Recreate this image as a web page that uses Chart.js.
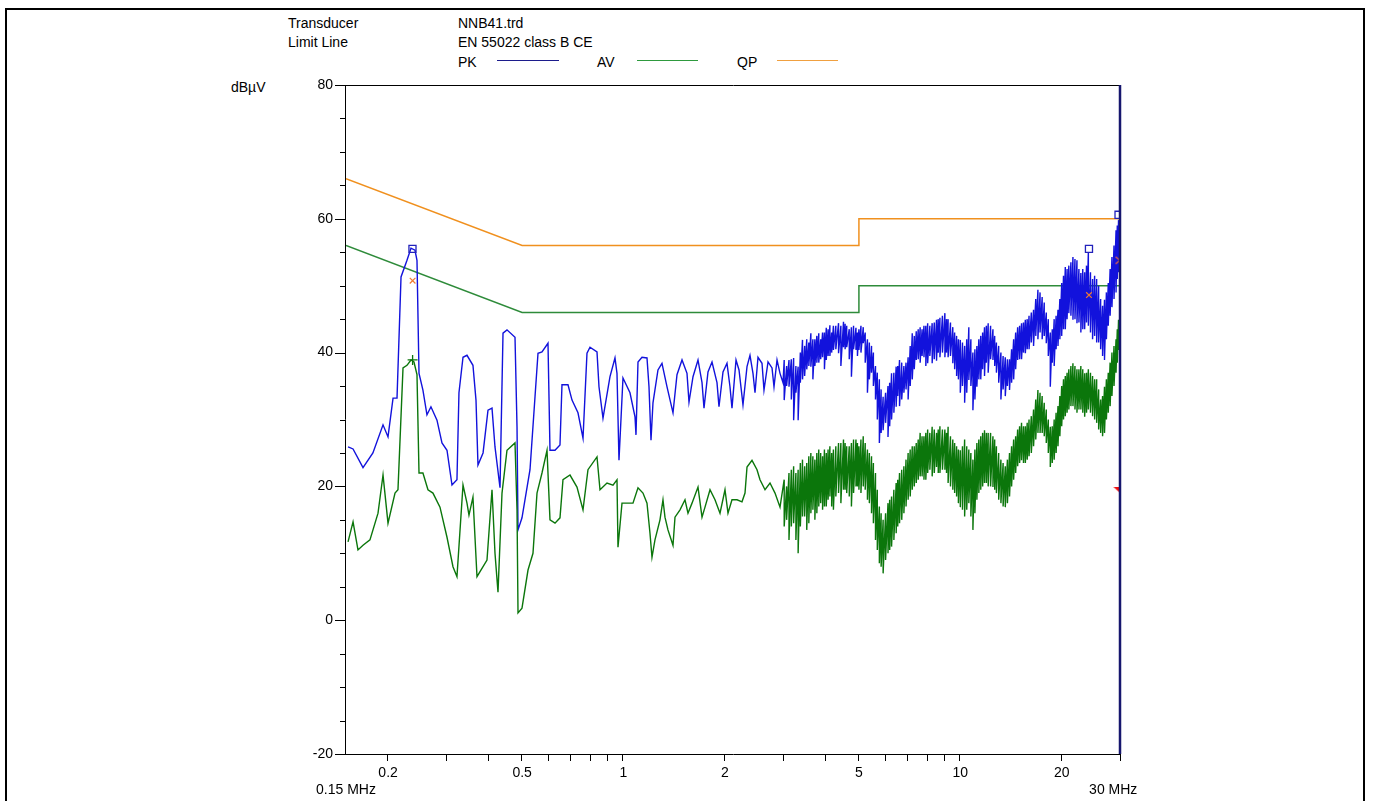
<!DOCTYPE html>
<html>
<head>
<meta charset="utf-8">
<script src="https://cdn.jsdelivr.net/npm/chart.js@4.4.1/dist/chart.umd.min.js"></script>
<style>
html,body{margin:0;padding:0;background:#fff;}
#wrap{position:relative;width:1375px;height:801px;overflow:hidden;background:#fff;}
#frame{position:absolute;left:5px;top:8px;width:1360px;height:800px;border:2px solid #000;border-bottom:none;box-sizing:border-box;}
#c{position:absolute;left:0;top:0;}
.t{position:absolute;font-family:"Liberation Sans",Arial,sans-serif;font-size:14px;line-height:16px;color:#000;white-space:nowrap;}
.lg{position:absolute;height:0;border-top:1.5px solid;}
</style>
</head>
<body>
<div id="wrap">
  <div id="frame"></div>
  <div class="t" style="left:288px;top:15px;">Transducer</div>
  <div class="t" style="left:288px;top:34px;">Limit Line</div>
  <div class="t" style="left:458px;top:15px;">NNB41.trd</div>
  <div class="t" style="left:458px;top:34px;">EN 55022 class B CE</div>
  <div class="t" style="left:458px;top:54px;">PK</div>
  <div class="lg" style="left:497px;top:60px;width:62px;border-color:#1c1c8c;"></div>
  <div class="t" style="left:597px;top:54px;">AV</div>
  <div class="lg" style="left:637px;top:60px;width:61px;border-color:#2e9a3e;"></div>
  <div class="t" style="left:737px;top:54px;">QP</div>
  <div class="lg" style="left:777px;top:60px;width:61px;border-color:#f0a040;"></div>
  <div class="t" style="left:231px;top:79px;">dBµV</div>
  <canvas id="c" width="1375" height="801"></canvas>
</div>
<script>
// ---------- axis ticks ----------
const xTickValues = [0.15, 0.2, 0.3, 0.4, 0.5, 0.6, 0.7, 0.8, 0.9, 1, 2, 3, 4, 5, 6, 7, 8, 9, 10, 20, 30];
const xTickText   = [['', '0.15 MHz'], '0.2', '', '', '0.5', '', '', '', '', '1', '2', '', '', '5', '', '', '', '', '10', '20', ['', '30 MHz\u00a0\u00a0\u00a0\u00a0']];
const yLabelValues = [80, 60, 40, 20, 0, -20];

// ---------- limit lines (EN 55022 class B) ----------
const limitFreq = [0.15, 0.5, 5, 5, 30];
const qpLimit   = [66, 56, 56, 60, 60];
const avLimit   = [56, 46, 46, 50, 50];

// ---------- PK trace, low-frequency part (MHz, dBµV) ----------
const pkFreqA = [0.1521,0.1574,0.1685,0.1803,0.1932,0.1999,0.2069,0.2126,0.2185,0.2276,0.2339,0.2404,0.2437,0.2471,0.2538,0.2609,0.2681,0.2794,0.2891,0.2992,0.3096,0.3203,0.3247,0.3338,0.3430,0.3573,0.3648,0.3698,0.3828,0.3960,0.4070,0.4154,0.4299,0.4388,0.4509,0.4763,0.4829,0.4862,0.4996,0.5277,0.5461,0.5574,0.5728,0.5968,0.6050,0.6261,0.6478,0.6567,0.6842,0.7033,0.7326,0.7582,0.7791,0.7953,0.8343,0.8457,0.8692,0.9118,0.9435,0.9565,0.9696,0.9965,1.0454,1.0818,1.0892,1.1042,1.1347,1.1743,1.1904,1.2068,1.2233,1.2658,1.3010,1.3461,1.4027,1.4416,1.4919,1.5436,1.5648,1.6084,1.6642,1.7105,1.7339,1.7818,1.8315,1.8950,1.9210,1.9744,2.0291,2.0709,2.0995,2.1582,2.2028,2.2635,2.3266,2.3745,2.4236,2.4573,2.5082,2.5778,2.6131,2.6860,2.7603,2.7981,2.8565,2.9154,2.9758];
const pkValA  = [25.9,25.6,22.8,25.0,29.2,27.4,33.2,33.2,51.3,53.8,55.6,55.3,53.8,36.9,34.4,30.7,31.9,29.9,26.5,25.4,20.2,21.0,34.0,39.3,39.6,38.1,32.9,23.2,25.0,31.4,31.7,25.9,19.8,42.9,43.4,42.3,28.9,13.5,15.3,22.5,33.4,39.9,40.1,41.4,25.4,25.4,26.2,35.2,35.2,32.9,31.0,27.2,39.9,40.8,40.1,34.9,30.2,36.4,39.2,36.9,23.9,36.2,34.0,30.4,27.7,38.6,39.3,39.2,34.9,26.9,32.5,37.4,38.4,34.9,31.0,36.7,38.9,36.9,32.6,36.4,38.9,35.5,31.7,37.1,38.6,35.5,31.9,37.1,38.4,34.9,31.7,38.9,37.4,32.2,37.9,39.6,36.9,34.0,39.3,38.4,34.4,38.6,37.7,34.9,38.9,36.9,35.5];

// ---------- AV trace, low-frequency part ----------
const avFreqA = [0.1521,0.1574,0.1628,0.1685,0.1767,0.1867,0.1932,0.1999,0.2097,0.2140,0.2215,0.2276,0.2339,0.2387,0.2437,0.2471,0.2538,0.2627,0.2718,0.2852,0.2992,0.3117,0.3203,0.3338,0.3430,0.3477,0.3573,0.3673,0.3933,0.4070,0.4154,0.4240,0.4358,0.4509,0.4763,0.4829,0.4862,0.4996,0.5206,0.5386,0.5536,0.5728,0.5928,0.6050,0.6261,0.6478,0.6612,0.6937,0.7276,0.7582,0.7844,0.8343,0.8516,0.8933,0.9307,0.9565,0.9630,0.9898,1.0242,1.0670,1.1042,1.1425,1.1743,1.1985,1.2150,1.2401,1.2833,1.3099,1.3278,1.3553,1.4027,1.4220,1.4716,1.5226,1.5541,1.5975,1.6642,1.7105,1.7457,1.8066,1.8692,1.9344,2.0015,2.0429,2.0995,2.1730,2.2481,2.2949,2.3266,2.4072,2.4912,2.5427,2.6315,2.7227,2.8176,2.9154];
const avValA  = [11.7,14.7,10.5,11.2,12.0,16.0,21.7,14.5,19.0,19.5,37.7,38.1,38.9,38.6,36.7,22.0,22.0,19.5,19.0,16.9,12.4,8.0,6.5,20.2,17.5,15.7,18.4,6.5,9.0,19.5,10.0,4.2,19.0,25.4,26.5,16.5,1.1,1.8,7.5,10.0,19.0,22.0,25.4,15.0,14.5,15.3,21.0,21.7,19.9,16.5,22.5,24.4,19.5,20.5,20.2,21.0,10.9,17.5,17.5,17.5,19.8,19.0,17.5,13.0,9.4,12.0,15.0,18.0,15.4,13.5,11.2,15.4,16.5,18.0,16.0,17.5,19.9,15.4,16.9,19.5,18.0,16.0,19.5,16.0,18.0,18.0,17.7,19.0,22.9,23.9,22.5,21.0,19.5,20.5,19.0,16.9];

// ---------- swept part 3–30 MHz: band edges read at two interleaved frequency sets ----------
const denseFreq = [3.0,3.1,3.2,3.3,3.4,3.5,3.6,3.7,3.8,3.9,4.0,4.1,4.2,4.35,4.5,4.6,4.75,4.9,5.0,5.15,5.3,5.45,5.6,5.75,5.9,6.1,6.25,6.45,6.6,6.8,7.0,7.2,7.4,7.6,7.8,8.0,8.25,8.5,8.7,9.0,9.2,9.5,9.75,10,10.3,10.6,10.9,11.2,11.5,11.8,12.1,12.5,12.8,13.2,13.6,14,14.4,14.8,15.2,15.6,16,16.5,17,17.5,18,18.5,19,19.5,20,20.5,21,21.6,22.2,22.8,23.4,24.0,24.7,25.4,26.1,26.8,27.5,28.2,29.0,29.5,30];
const pkHi = [38.9,38.9,39.2,37.9,41.9,42.0,42.9,42.0,42.9,43.0,43.7,44.1,44.0,44.4,44.6,44.0,43.8,43.7,43.5,43.8,42.0,41.0,38.0,36.0,33.4,35.0,36.9,37.9,38.9,38.0,39.3,42.9,43.2,43.8,44.0,44.4,44.4,44.9,45.2,45.9,45.0,43.8,42.5,41.9,41.0,43.8,40.0,41.0,42.5,43.8,44.4,43.5,41.5,40.0,39.3,39.0,42.0,43.8,44.4,44.9,45.5,46.4,49.4,48.3,46.0,43.0,45.0,46.4,50.4,52.8,53.0,54.3,53.8,51.9,52.0,55.0,51.0,51.0,48.0,47.9,50.4,54.3,58.3,59.8,58.0];
const pkLo = [32.9,34.9,29.9,29.9,36.0,37.5,37.9,38.0,38.5,39.3,38.9,39.5,40.4,39.9,40.8,40.8,36.4,40.4,40.4,41.4,34.0,37.0,33.0,26.5,28.4,27.4,30.0,31.9,32.0,34.0,33.0,36.0,38.9,38.5,39.3,38.4,38.4,38.8,39.3,39.3,39.3,38.4,36.5,34.0,32.5,35.9,31.4,34.9,36.0,36.5,37.0,38.9,37.0,33.0,33.5,34.4,36.0,38.9,39.0,39.9,40.5,41.0,42.0,42.0,41.4,34.9,38.0,41.0,42.5,43.5,45.9,44.9,44.4,43.0,43.5,44.0,42.0,41.5,40.5,38.9,44.0,46.8,49.0,52.0,52.0];
const avHi = [21.0,22.0,23.0,22.5,24.0,23.5,25.0,24.0,25.5,24.5,25.0,26.0,25.5,26.5,27.0,26.0,26.5,27.0,26.0,27.5,25.5,24.5,22.0,17.0,15.0,17.5,18.5,20.5,22.0,23.0,25.0,26.0,26.5,28.0,27.5,28.5,28.9,28.0,29.0,28.5,28.9,27.0,26.0,25.4,27.0,25.5,24.0,26.5,27.5,28.4,28.0,27.5,26.0,24.0,23.0,25.0,27.0,28.5,29.5,29.0,30.0,31.5,34.4,33.5,31.5,28.9,30.0,32.0,35.0,36.5,37.5,38.4,37.5,38.0,36.9,37.5,36.5,36.0,33.0,34.9,37.0,40.0,42.0,44.9,45.5];
const avLo = [14.0,12.0,14.5,10.0,15.5,13.5,16.0,15.0,17.0,16.5,17.0,18.5,16.5,19.0,19.5,19.0,17.0,20.0,19.5,20.0,18.0,16.0,12.0,8.5,7.0,10.0,11.0,13.0,14.5,16.0,18.0,19.5,20.5,21.5,21.0,22.0,21.5,22.9,22.0,22.5,20.5,19.5,18.5,16.9,15.5,17.5,13.5,18.0,19.5,20.5,20.0,19.9,19.0,17.5,16.9,18.5,21.0,23.0,23.9,23.5,24.5,26.0,28.0,28.0,26.5,22.9,24.0,26.0,29.0,30.5,31.5,32.0,31.0,31.5,30.4,31.5,30.5,29.5,28.0,28.0,31.0,33.5,37.0,40.4,42.0];

const midFreq = [3.05,3.15,3.25,3.35,3.45,3.55,3.65,3.75,3.85,3.95,4.05,4.15,4.27,4.42,4.55,4.68,4.82,4.95,5.07,5.22,5.37,5.52,5.67,5.82,6.0,6.17,6.35,6.52,6.7,6.9,7.1,7.3,7.5,7.7,7.9,8.12,8.37,8.6,8.85,9.1,9.35,9.62,9.87,10.15,10.45,10.75,11.05,11.35,11.65,11.95,12.3,12.65,13.0,13.4,13.8,14.2,14.6,15.0,15.4,15.8,16.25,16.75,17.25,17.75,18.25,18.75,19.25,19.75,20.25,20.75,21.3,21.9,22.5,23.1,23.7,24.35,25.05,25.75,26.45,27.15,27.85,28.6,29.25,29.75];
const pkMidHi = [38.0,39.0,38.0,40.0,41.0,41.5,42.0,42.5,42.0,43.0,43.5,43.0,44.0,44.0,44.3,43.5,44.0,43.0,44.0,43.0,41.5,40.0,37.0,34.5,34.0,35.5,37.0,38.0,38.5,38.5,41.0,42.5,43.5,43.5,44.0,44.0,44.5,45.0,45.5,45.0,44.5,43.0,42.0,41.5,42.0,42.0,40.5,42.0,43.0,44.0,44.0,42.5,41.0,39.5,39.0,40.5,43.0,44.0,44.5,45.0,46.0,48.0,49.0,47.5,45.0,43.5,45.5,48.0,51.5,52.5,53.5,54.0,52.5,52.5,53.0,52.0,51.5,50.0,47.0,49.0,52.5,56.0,59.0,59.0];
const pkMidLo = [35.0,33.0,34.0,35.5,36.5,38.0,36.0,38.5,39.0,37.5,39.5,40.0,40.5,38.0,40.5,39.0,40.5,39.5,40.0,38.5,36.0,35.0,30.0,28.0,29.5,29.0,31.0,33.5,33.0,34.5,35.0,37.5,39.0,39.5,38.0,39.5,39.0,40.0,40.0,40.0,39.5,37.5,36.0,35.0,34.0,35.0,33.0,36.0,37.5,38.5,39.0,38.0,35.5,34.5,35.0,35.5,37.5,39.0,40.0,40.5,41.5,42.5,43.0,42.5,39.5,38.5,40.5,42.0,43.5,45.0,45.5,45.0,44.5,43.5,44.5,43.0,42.5,41.5,39.5,42.0,45.5,48.0,51.0,53.0];
const avMidHi = [20.0,22.5,22.0,23.5,23.0,24.5,24.5,25.0,25.0,25.5,25.5,25.0,26.0,26.5,26.5,26.0,27.0,26.5,27.0,26.5,25.0,23.5,19.5,16.0,16.0,18.0,19.5,21.0,22.5,24.0,25.5,26.0,27.0,27.5,28.0,28.0,28.5,28.5,28.5,28.0,27.5,26.5,25.5,26.0,26.0,25.0,25.5,27.0,28.0,28.0,28.0,27.0,25.0,23.5,24.0,26.0,27.5,29.0,29.0,29.5,30.5,33.0,34.0,32.5,30.0,29.0,31.0,33.5,36.0,37.0,38.0,38.0,37.5,37.5,37.0,37.0,36.0,34.5,33.5,36.0,38.5,41.0,43.5,45.0];
const avMidLo = [15.0,14.0,12.0,14.0,15.5,14.5,16.5,16.0,17.5,17.0,18.0,17.0,18.5,17.5,19.5,18.5,19.0,20.0,19.0,19.5,17.5,14.5,10.5,8.0,9.0,10.5,12.0,14.0,15.0,17.0,18.5,20.0,21.0,21.5,21.0,22.5,22.0,22.0,22.5,22.0,20.0,19.0,17.5,16.5,16.5,15.5,16.0,19.0,20.0,20.5,20.0,19.5,18.0,17.0,17.5,20.0,22.0,23.5,23.5,24.0,25.0,27.0,28.0,27.5,25.0,23.5,25.0,27.5,30.0,31.0,32.0,31.5,31.5,31.0,31.0,31.0,30.0,28.5,27.5,30.0,32.0,35.0,38.5,41.0];

// ---------- markers ----------
const pkMarkFreq = [0.2363, 24.1, 29.5];
const pkMarkVal  = [55.5, 55.5, 60.6];
const qpMarkFreq = [0.2365, 24.1];
const qpMarkVal  = [50.75, 48.6];
const avMarkFreq = [0.2365];
const avMarkVal  = [38.9];
const gtMarkFreq = [29.4];
const gtMarkVal  = [53.8];
const triMarkFreq = [29.4];
const triMarkVal  = [19.3];

// ---------- build point tables ----------
function pts(fx, vy) { return fx.map((f, i) => ({x: f, y: vy[i]})); }
function band(fx, hi, lo, mx, mhi, mlo) {
  const out = [];
  for (let i = 0; i < fx.length; i++) {
    out.push({x: fx[i], y: hi[i]}); out.push({x: fx[i], y: lo[i]});
    if (i < mx.length) { out.push({x: mx[i], y: mhi[i]}); out.push({x: mx[i], y: mlo[i]}); }
  }
  return out;
}

// custom point glyphs (style only)
function glyph(w, h, draw) {
  const c = document.createElement('canvas'); c.width = w; c.height = h;
  draw(c.getContext('2d')); return c;
}
const triGlyph = glyph(10, 9, g => { g.fillStyle = '#ee1111'; g.beginPath(); g.moveTo(0, 0); g.lineTo(10, 0); g.lineTo(10, 9); g.closePath(); g.fill(); });
const gtGlyph = glyph(7, 9, g => { g.strokeStyle = '#f06a3a'; g.lineWidth = 1.2; g.beginPath(); g.moveTo(1, 1); g.lineTo(5.5, 4.5); g.lineTo(1, 8); g.stroke(); });

const FONT = '"Liberation Sans", Arial, sans-serif';

const axisFrame = {
  id: 'axisFrame',
  afterDatasetsDraw(chart) {
    const {ctx, chartArea: a, scales: {x, y}} = chart;
    ctx.save();
    ctx.strokeStyle = '#000'; ctx.lineWidth = 1;
    ctx.beginPath();
    ctx.moveTo(a.left, a.top + 0.5); ctx.lineTo(a.right, a.top + 0.5);
    ctx.moveTo(a.left - 0.5, a.top); ctx.lineTo(a.left - 0.5, a.bottom);
    ctx.moveTo(a.left, a.bottom + 0.5); ctx.lineTo(a.right, a.bottom + 0.5);
    y.ticks.forEach(t => {
      const py = Math.round(y.getPixelForValue(t.value)) + 0.5;
      const len = yLabelValues.includes(t.value) ? 11 : 6;
      ctx.moveTo(a.left - len, py); ctx.lineTo(a.left, py);
    });
    xTickValues.forEach(v => {
      if (v === xTickValues[0]) return;
      const px = Math.round(x.getPixelForValue(v)) - 0.5;
      ctx.moveTo(px, a.bottom); ctx.lineTo(px, a.bottom + 7);
    });
    ctx.stroke();
    ctx.strokeStyle = '#16166e'; ctx.lineWidth = 2.5;
    ctx.beginPath(); ctx.moveTo(a.right - 1, a.top); ctx.lineTo(a.right - 1, a.bottom); ctx.stroke();
    ctx.restore();
  }
};

new Chart(document.getElementById('c'), {
  type: 'line',
  data: {
    datasets: [
      {label: 'QP limit', data: pts(limitFreq, qpLimit), borderColor: '#f0901e', borderWidth: 1.5, order: 5},
      {label: 'AV limit', data: pts(limitFreq, avLimit), borderColor: '#2e8b3a', borderWidth: 1.5, order: 5},
      {label: 'PK', data: pts(pkFreqA, pkValA).concat(band(denseFreq, pkHi, pkLo, midFreq, pkMidHi, pkMidLo)), borderColor: '#1212dc', borderWidth: 1.4, order: 3},
      {label: 'AV', data: pts(avFreqA, avValA).concat(band(denseFreq, avHi, avLo, midFreq, avMidHi, avMidLo)), borderColor: '#0b760b', borderWidth: 1.4, order: 2},
      {label: 'PK mk', data: pts(pkMarkFreq, pkMarkVal), showLine: false, pointStyle: 'rect', pointRadius: 5, pointBorderColor: '#2222bb', pointBackgroundColor: 'rgba(0,0,0,0)', pointBorderWidth: 1.3, order: 0},
      {label: 'QP mk', data: pts(qpMarkFreq, qpMarkVal), showLine: false, pointStyle: 'crossRot', pointRadius: 4, pointBorderColor: '#f07a30', pointBorderWidth: 1.2, order: 0},
      {label: 'AV mk', data: pts(avMarkFreq, avMarkVal), showLine: false, pointStyle: 'cross', pointRadius: 5, pointBorderColor: '#0b760b', pointBorderWidth: 1.3, order: 0},
      {label: 'GT mk', data: pts(gtMarkFreq, gtMarkVal), showLine: false, pointStyle: gtGlyph, pointRadius: 4, order: 0},
      {label: 'TRI mk', data: pts(triMarkFreq, triMarkVal), showLine: false, pointStyle: triGlyph, pointRadius: 5, order: 0}
    ]
  },
  options: {
    responsive: false,
    animation: false,
    devicePixelRatio: 1,
    parsing: false,
    normalized: true,
    layout: {padding: {left: 0, top: 85, right: 254, bottom: 0}},
    elements: {point: {radius: 0, hoverRadius: 0}, line: {tension: 0, fill: false}},
    plugins: {legend: {display: false}, tooltip: {enabled: false}},
    scales: {
      x: {
        type: 'logarithmic', min: 0.15, max: 30,
        afterBuildTicks(s) { s.ticks = xTickValues.map(v => ({value: v})); },
        afterFit(s) { s.height = 47; },
        grid: {display: false, drawTicks: false},
        border: {display: false},
        ticks: {
          autoSkip: false, maxRotation: 0, minRotation: 0, padding: 11, color: '#000',
          font: {family: FONT, size: 14},
          callback(v) { const i = xTickValues.indexOf(v); return i >= 0 ? xTickText[i] : ''; }
        }
      },
      y: {
        type: 'linear', min: -20, max: 80,
        afterFit(s) { s.width = 346; },
        grid: {display: false, drawTicks: false},
        border: {display: false},
        ticks: {
          stepSize: 5, maxTicksLimit: 50, autoSkip: false, padding: 13, color: '#000',
          font: {family: FONT, size: 14},
          callback(v) { return yLabelValues.includes(v) ? String(v) : ''; }
        }
      }
    }
  },
  plugins: [axisFrame]
});
</script>
</body>
</html>
